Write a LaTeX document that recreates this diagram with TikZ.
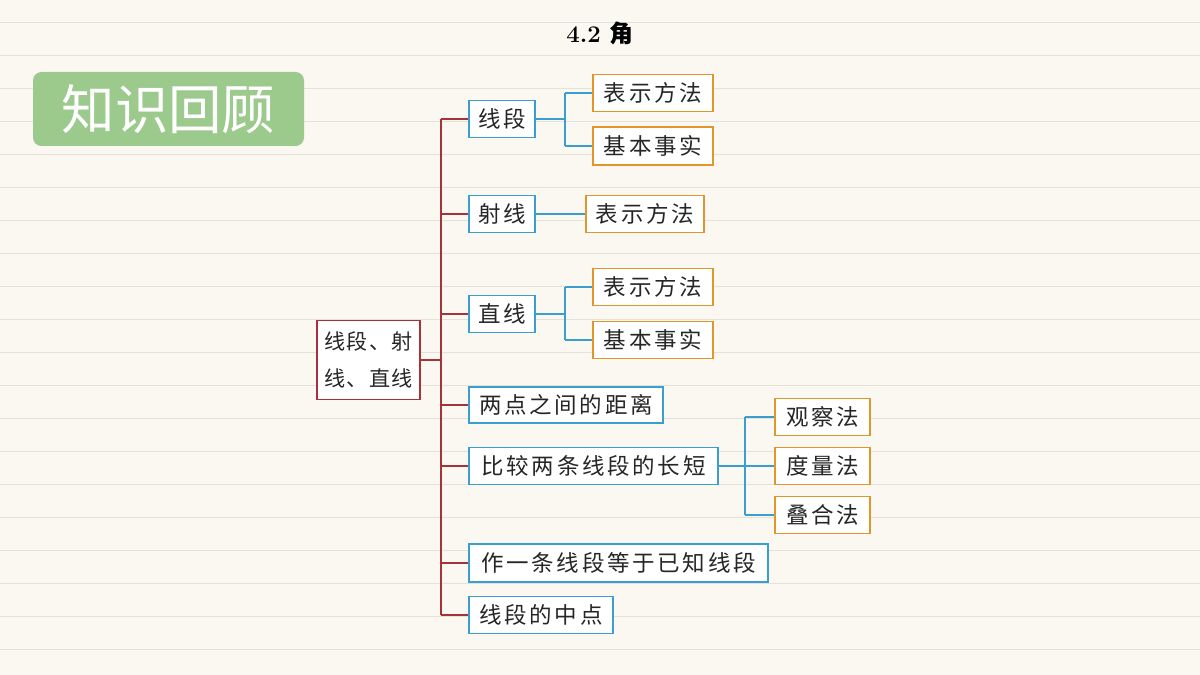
\documentclass[tikz,border=0pt]{standalone}
\usepackage{fontspec}
\newfontfamily\cjk{Noto Sans CJK SC}
\newfontfamily\cjksp[LetterSpace=12]{Noto Sans CJK SC}
\newfontfamily\cjkspb[LetterSpace=6]{Noto Sans CJK SC}
\definecolor{bg}{HTML}{FBF8F1}
\definecolor{rl}{HTML}{E6E1D8}
\definecolor{gr}{HTML}{9CC98C}
\definecolor{rd}{HTML}{A8323A}
\definecolor{bl}{HTML}{3A9FD0}
\definecolor{og}{HTML}{E0962A}
\tikzset{
 bx/.style={draw, line width=0.8pt, fill=white, inner sep=0pt, font=\cjksp\fontsize{16}{18}\selectfont, text=black!85},
 bb/.style={bx, draw=bl},
 ob/.style={bx, draw=og},
 rb/.style={bx, draw=rd},
 rc/.style={draw=rd, line width=0.9pt},
 bc/.style={draw=bl, line width=0.8pt},
}
\begin{document}
\begin{tikzpicture}[x=0.025cm,y=-0.025cm]
\useasboundingbox (0,0) rectangle (1200,675);
\fill[bg] (0,0) rectangle (1200,675);
\foreach \y in {22,55,...,660} \draw[rl, line width=0.6pt] (0,\y) -- (1200,\y);
\node[font=\bfseries\fontsize{17}{20}\selectfont] (title) at (600,33) {4.2 {\cjk 角}};
\node[fill=gr, rounded corners=6pt, minimum width=271*0.025cm, minimum height=74*0.025cm, text=white, font=\cjk\fontsize{38}{40}\selectfont] (rev) at (168.5,109) {知识回顾};
\node[rb, minimum width=103*0.025cm, minimum height=79*0.025cm, align=center, font=\cjkspb\fontsize{15}{26}\selectfont] (root) at (368.5,360) {线段、射\\线、直线};
% blue boxes
\node[bb, minimum width=66*0.025cm, minimum height=37*0.025cm] (xd) at (502,119) {线段};
\node[bb, minimum width=66*0.025cm, minimum height=37*0.025cm] (sx) at (502,214) {射线};
\node[bb, minimum width=66*0.025cm, minimum height=37*0.025cm] (zx) at (502,314) {直线};
\node[bb, minimum width=194*0.025cm, minimum height=36*0.025cm] (jl) at (566,405) {两点之间的距离};
\node[bb, minimum width=249*0.025cm, minimum height=37*0.025cm] (bj) at (593.5,466) {比较两条线段的长短};
\node[bb, minimum width=299*0.025cm, minimum height=38*0.025cm] (zy) at (618.5,563) {作一条线段等于已知线段};
\node[bb, minimum width=144*0.025cm, minimum height=37*0.025cm] (zd) at (541,615) {线段的中点};
% orange boxes
\node[ob, minimum width=120*0.025cm, minimum height=37*0.025cm] (a1) at (653,93) {表示方法};
\node[ob, minimum width=120*0.025cm, minimum height=38*0.025cm] (a2) at (653,146) {基本事实};
\node[ob, minimum width=118*0.025cm, minimum height=37*0.025cm] (b1) at (645,214) {表示方法};
\node[ob, minimum width=120*0.025cm, minimum height=37*0.025cm] (c1) at (653,287) {表示方法};
\node[ob, minimum width=120*0.025cm, minimum height=37*0.025cm] (c2) at (653,340) {基本事实};
\node[ob, minimum width=95*0.025cm, minimum height=37*0.025cm] (d1) at (822.5,417) {观察法};
\node[ob, minimum width=95*0.025cm, minimum height=37*0.025cm] (d2) at (822.5,466) {度量法};
\node[ob, minimum width=95*0.025cm, minimum height=37*0.025cm] (d3) at (822.5,515) {叠合法};
% red connectors
\coordinate (tr) at (441,360);
\draw[rc] (root.east) -- (tr);
\foreach \n in {xd,sx,zx,jl,bj,zy,zd} \draw[rc] (tr |- \n.west) -- (\n.west);
\draw[rc] (tr |- xd.west) -- (tr |- zd.west);
% blue connectors
\draw[bc] (xd.east) -- (565,119);
\draw[bc] (565,0 |- a1.west) -- (565,0 |- a2.west);
\draw[bc] (565,0 |- a1.west) -- (a1.west);
\draw[bc] (565,0 |- a2.west) -- (a2.west);
\draw[bc] (sx.east) -- (b1.west);
\draw[bc] (zx.east) -- (565,314);
\draw[bc] (565,0 |- c1.west) -- (565,0 |- c2.west);
\draw[bc] (565,0 |- c1.west) -- (c1.west);
\draw[bc] (565,0 |- c2.west) -- (c2.west);
\draw[bc] (bj.east) -- (745,466);
\draw[bc] (745,0 |- d1.west) -- (745,0 |- d3.west);
\draw[bc] (745,0 |- d1.west) -- (d1.west);
\draw[bc] (745,0 |- d3.west) -- (d3.west);
\draw[bc] (745,0 |- d2.west) -- (d2.west);
\end{tikzpicture}
\end{document}
